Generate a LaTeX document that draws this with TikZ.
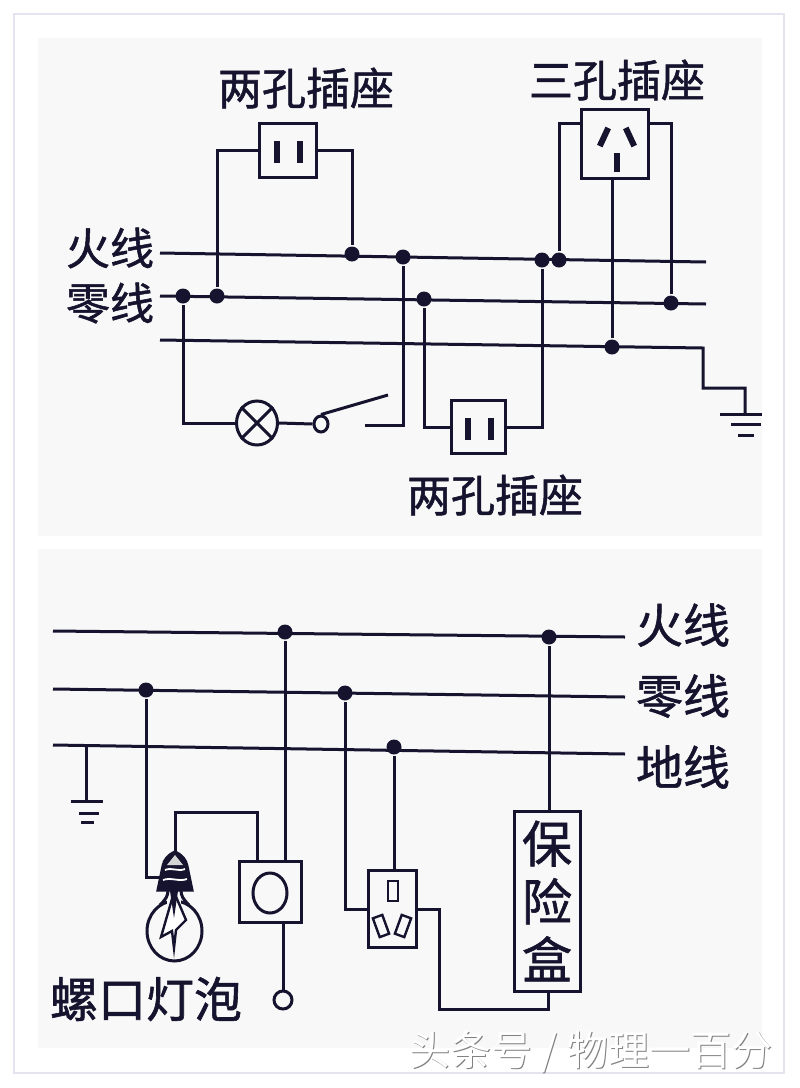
\documentclass[tikz,border=0pt]{standalone}
\usepackage{fontspec}
\setmainfont{Noto Sans CJK SC}
\newfontfamily\labelfont[FakeBold=1.2]{Noto Sans CJK SC}
\usetikzlibrary{shapes.geometric}
\definecolor{inkblue}{HTML}{15132E}
\definecolor{paper}{HTML}{F8F8F8}
\definecolor{framecol}{HTML}{E4E4F0}
\begin{document}
\begin{tikzpicture}[x=1pt,y=-1pt,line width=3pt,color=inkblue,
            main node/.style={font=\labelfont\fontsize{44}{44}\selectfont,text=inkblue,inner sep=0pt},
            dot node/.style={circle,fill=inkblue,draw=none,minimum size=15pt,inner sep=0pt},
            box node/.style={rectangle,draw=inkblue,fill=paper,inner sep=0pt},
            pin node/.style={rectangle,fill=inkblue,draw=none,inner sep=0pt,minimum width=6pt,minimum height=22pt},
            hole node/.style={rectangle,draw=inkblue,line width=2.4pt,inner sep=0pt,minimum width=10pt,minimum height=20pt},
            ring node/.style={ellipse,draw=inkblue,inner sep=0pt}]
        \useasboundingbox (0,0) rectangle (800,1088);

        % Page and panels
        \draw[framecol,line width=2.5pt,fill=white] (14,14) rectangle (784,1073);
        \fill[paper] (38,38) rectangle (762,536);
        \fill[paper] (38,549) rectangle (762,1048);

        % Define vertices, upper panel
        \node[main node] (toptitle) at (306,88) {两孔插座};
        \node[main node] (threetitle) at (617,80) {三孔插座};
        \node[main node] (lowtitle) at (495,495) {两孔插座};
        \node[main node] (livetext) at (110,248) {火线};
        \node[main node] (zerotext) at (110,303) {零线};

        \coordinate (liveA) at (160,253);
        \coordinate (liveB) at (706,262);
        \coordinate (zeroA) at (160,296);
        \coordinate (zeroB) at (706,304);
        \coordinate (earthA) at (160,340);
        \coordinate (earthB) at (703,348);
        \coordinate (earthC) at (745,388);
        \coordinate (earthD) at (745,415);
        \coordinate (contactA) at (365,425);
        \coordinate (armtip) at (388,395);

        \node[dot node] (live1) at (352,254) {};
        \node[dot node] (live2) at (403,257) {};
        \node[dot node] (live3) at (542,260) {};
        \node[dot node] (live4) at (559,260) {};
        \node[dot node] (zero1) at (183,296) {};
        \node[dot node] (zero2) at (217,296) {};
        \node[dot node] (zero3) at (424,299) {};
        \node[dot node] (zero4) at (671,303) {};
        \node[dot node] (earth1) at (612,347) {};

        \node[box node,minimum width=57pt,minimum height=54pt] (sockettop) at (288,150) {};
        \node[box node,minimum width=67pt,minimum height=69pt] (socketthree) at (615,144) {};
        \node[box node,minimum width=54pt,minimum height=53pt] (socketlow) at (478,427) {};
        \node[ring node,minimum width=41pt,minimum height=44pt] (lamp) at (257,423) {};
        \node[ring node,minimum width=14pt,minimum height=16pt] (hinge) at (321,424) {};

        \node[pin node] (pin1) at (277,152) {};
        \node[pin node] (pin2) at (300,152) {};
        \node[pin node] (pin3) at (468,429) {};
        \node[pin node] (pin4) at (491,429) {};
        \node[pin node,rotate=-25,minimum height=20pt] (pin5) at (604,137) {};
        \node[pin node,rotate=25,minimum height=20pt] (pin6) at (630,137) {};
        \node[pin node,minimum height=19pt] (pin7) at (617,162) {};

        % Draw edges, upper panel
        \draw (liveA) -- (liveB);
        \draw (zeroA) -- (zeroB);
        \draw (earthA) -- (earthB) |- (earthC) -- (earthD);
        \draw (sockettop.west) -| (zero2);
        \draw (sockettop.east) -| (live1);
        \draw (socketthree.150) -| (live4);
        \draw (socketthree.30) -| (zero4);
        \draw (earth1) -- (earth1 |- socketthree.south);
        \draw (zero1) |- (lamp.west);
        \draw (lamp.east) -- (hinge.west);
        \draw (lamp.45) -- (lamp.225);
        \draw (lamp.135) -- (lamp.315);
        \draw (hinge.north) -- (armtip);
        \draw (contactA) -| (live2);
        \draw (zero3) |- (socketlow.west);
        \draw (socketlow.east) -| (live3);
        \draw (720,414) -- (762,414);
        \draw (731,424) -- (761,424);
        \draw (738,435) -- (754,435);

        % Define vertices, lower panel
        \node[main node,font=\labelfont\fontsize{47}{47}\selectfont] (livelabel) at (683,625) {火线};
        \node[main node,font=\labelfont\fontsize{47}{47}\selectfont] (zerolabel) at (683,696) {零线};
        \node[main node,font=\labelfont\fontsize{47}{47}\selectfont] (earthlabel) at (683,767) {地线};
        \node[main node,font=\labelfont\fontsize{48}{48}\selectfont] (bulblabel) at (146,999) {螺口灯泡};

        \coordinate (lineA) at (53,631);
        \coordinate (lineB) at (625,637);
        \coordinate (nullA) at (53,689);
        \coordinate (nullB) at (625,697);
        \coordinate (groundA) at (53,745);
        \coordinate (groundB) at (625,754);
        \coordinate (groundC) at (86,746);
        \coordinate (groundD) at (86,801);
        \coordinate (bulbtop) at (175,852);
        \coordinate (bulbside) at (162,877);
        \coordinate (fusetail) at (548,1009);

        \node[dot node] (line1) at (285,632) {};
        \node[dot node] (line2) at (549,637) {};
        \node[dot node] (null1) at (146,690) {};
        \node[dot node] (null2) at (345,693) {};
        \node[dot node] (ground1) at (394,747) {};

        \node[box node,minimum width=62pt,minimum height=61pt] (switchbox) at (270,892) {};
        \node[ring node,minimum width=34pt,minimum height=40pt] (switchring) at (270,893) {};
        \node[ring node,minimum width=18pt,minimum height=18pt] (pullring) at (283,1000) {};
        \node[box node,minimum width=48pt,minimum height=77pt] (socketplug) at (392,909) {};
        \node[hole node] (hole1) at (393,891) {};
        \node[hole node,rotate=20] (hole2) at (381,926) {};
        \node[hole node,rotate=-20] (hole3) at (403,926) {};
        \node[box node,minimum width=66pt,minimum height=180pt] (fusebox) at (547,901) {};
        \node[main node,font=\labelfont\fontsize{50}{58}\selectfont,align=center] (fusetext) at (547,901) {保\\险\\盒};

        % Draw edges, lower panel
        \draw (lineA) -- (lineB);
        \draw (nullA) -- (nullB);
        \draw (groundA) -- (groundB);
        \draw (groundC) -- (groundD);
        \draw (71,801) -- (103,801);
        \draw (79,813) -- (99,813);
        \draw (81,822) -- (94,822);
        \draw (line1) -- (line1 |- switchbox.north);
        \draw (pullring.north) -- (pullring |- switchbox.south);
        \draw (null1) |- (bulbside);
        \draw (bulbtop) |- (257,812) -- (257,862);
        \draw (null2) |- (socketplug.west);
        \draw (ground1) -- (ground1 |- socketplug.north);
        \draw (socketplug.east) -| (439,1009) -- (fusetail) -- (fusetail |- fusebox.south);
        \draw (line2) -- (line2 |- fusebox.north);

        % Bulb
        \draw (174.5,931) ellipse (27.5pt and 30pt);
        \fill[paper] (167,896) rectangle (181,904);
        \draw (168,890) .. controls (168,896) and (166,899) .. (160,905);
        \draw (181,890) .. controls (181,896) and (183,899) .. (189,905);
        \filldraw[fill=inkblue] (175,852) .. controls (168,855) and (164,860) .. (163,866)
            -- (158,890) -- (192,890) -- (187,866) .. controls (186,860) and (182,855) .. (175,852) -- cycle;
        \fill[paper!70!gray] (175,855) -- (167,865) -- (183,865) -- cycle;
        \draw[white,line width=1.8pt] (165,870) .. controls (172,867) and (178,872) .. (185,869);
        \draw[white,line width=1.8pt] (163,880) .. controls (171,877) and (179,882) .. (187,879);
        \filldraw[fill=white,line width=2.4pt] (174,892) -- (161,937) -- (172,931) -- (174,948) -- (176,930) -- (186,920) -- cycle;
        \fill (170,891) -- (178,891) -- (174,918) -- cycle;

        % Watermark
        \node[font=\fontsize{41}{41}\selectfont,text=gray,inner sep=0pt] (markback) at (592,1053) {头条号 / 物理一百分};
        \node[font=\fontsize{41}{41}\selectfont,text=white,inner sep=0pt] (mark) at (591,1052) {头条号 / 物理一百分};

        \end{tikzpicture}
\end{document}
